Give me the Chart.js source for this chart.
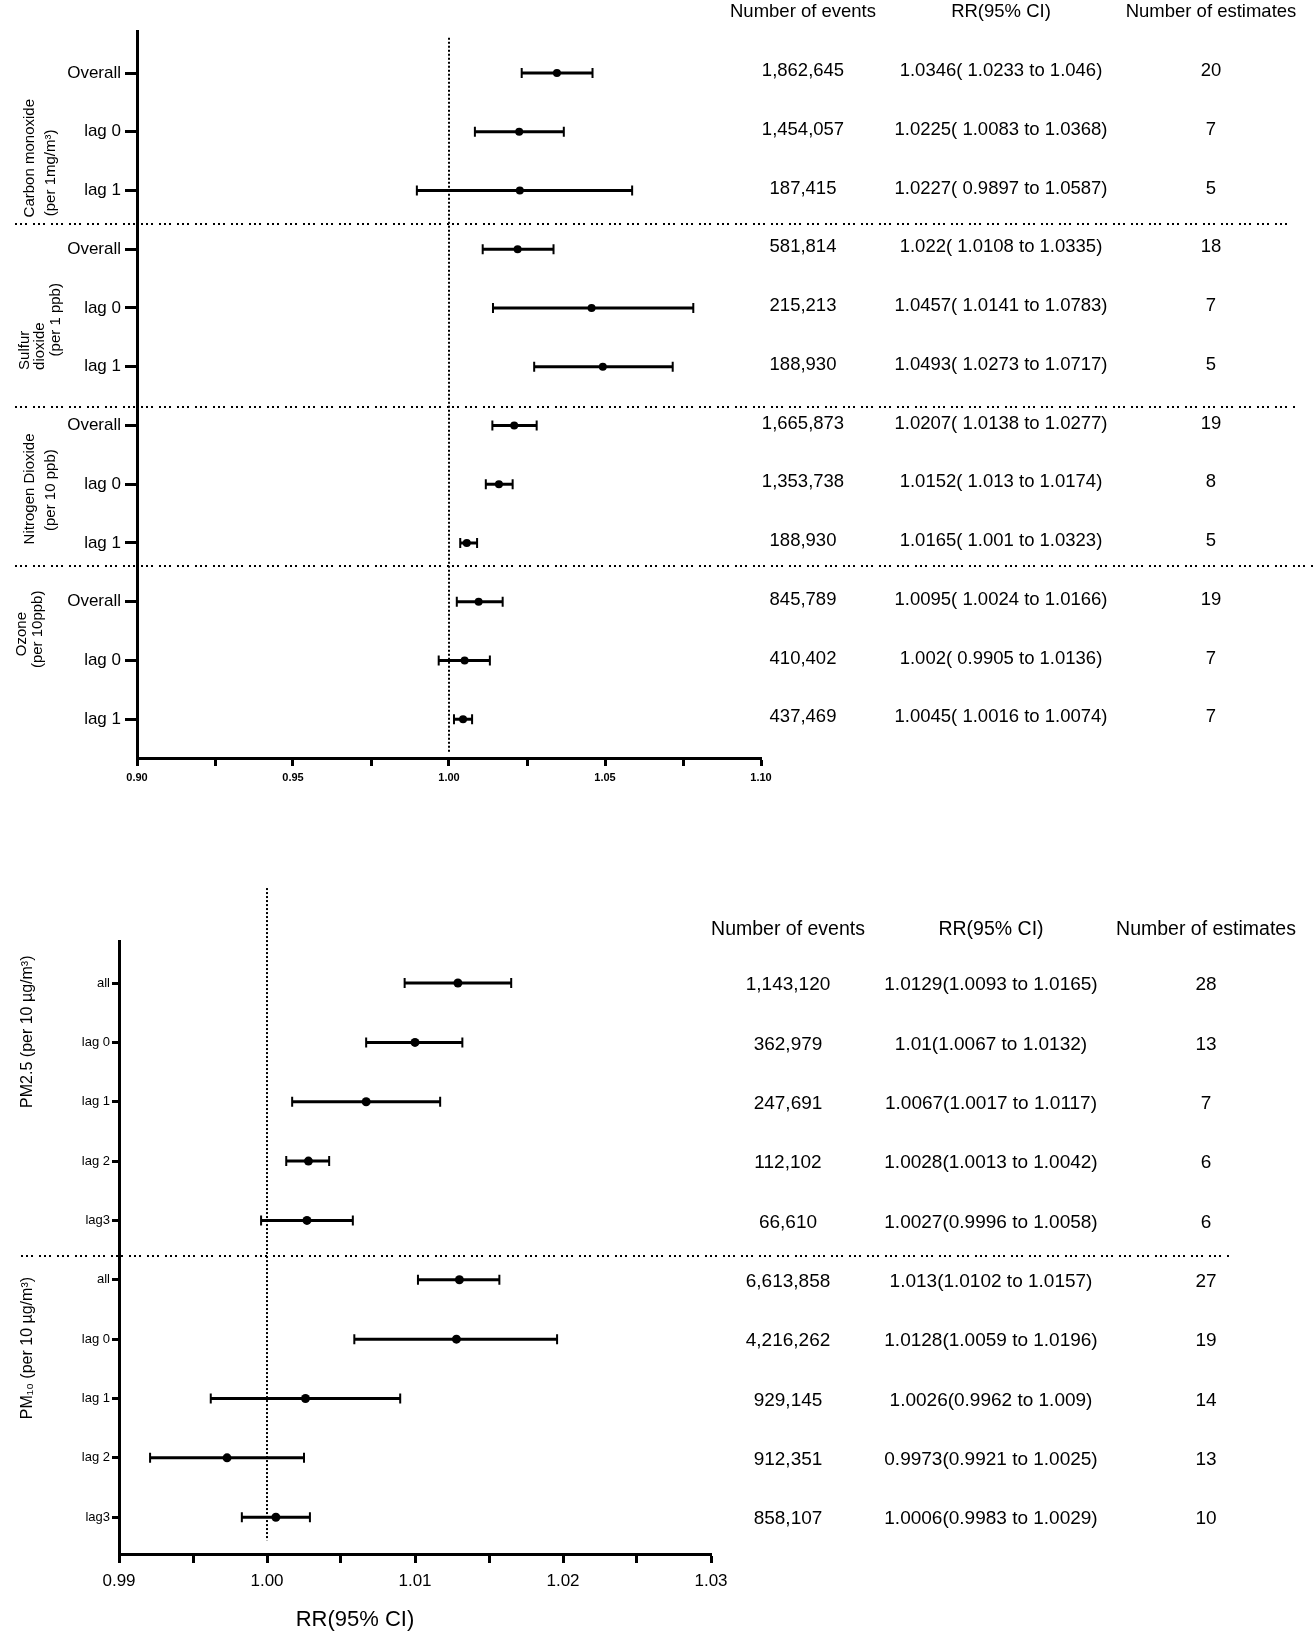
<!DOCTYPE html>
<html>
<head>
<meta charset="utf-8">
<script src="https://cdn.jsdelivr.net/npm/chart.js@4.4.0/dist/chart.umd.min.js"></script>
<style>
  html, body { margin: 0; padding: 0; background: #fff; }
  #wrap { position: relative; width: 1314px; height: 1637px; }
  canvas { position: absolute; left: 0; }
  #gas { top: 0; }
  #pm { top: 860px; }
</style>
</head>
<body>
<div id="wrap">
  <canvas id="gas" width="1314" height="810"></canvas>
  <canvas id="pm" width="1314" height="777"></canvas>
</div>
<script>
// upper panel: gaseous pollutants
const gasRows = ['Overall', 'lag 0', 'lag 1', 'Overall', 'lag 0', 'lag 1',
                 'Overall', 'lag 0', 'lag 1', 'Overall', 'lag 0', 'lag 1'];
const gasRR = [1.0346, 1.0225, 1.0227, 1.022, 1.0457, 1.0493, 1.0209, 1.016, 1.0057, 1.0095, 1.005, 1.0045];
const gasLo = [1.0233, 1.0083, 0.9897, 1.0108, 1.0141, 1.0273, 1.0139, 1.0118, 1.0036, 1.0025, 0.9967, 1.0016];
const gasHi = [1.046, 1.0368, 1.0587, 1.0335, 1.0783, 1.0717, 1.0281, 1.0204, 1.009, 1.0172, 1.0131, 1.0074];
const gasEvents = ['1,862,645', '1,454,057', '187,415', '581,814', '215,213', '188,930',
                   '1,665,873', '1,353,738', '188,930', '845,789', '410,402', '437,469'];
const gasRRText = ['1.0346( 1.0233 to 1.046)', '1.0225( 1.0083 to 1.0368)', '1.0227( 0.9897 to 1.0587)',
                   '1.022( 1.0108 to 1.0335)', '1.0457( 1.0141 to 1.0783)', '1.0493( 1.0273 to 1.0717)',
                   '1.0207( 1.0138 to 1.0277)', '1.0152( 1.013 to 1.0174)', '1.0165( 1.001 to 1.0323)',
                   '1.0095( 1.0024 to 1.0166)', '1.002( 0.9905 to 1.0136)', '1.0045( 1.0016 to 1.0074)'];
const gasEstimates = ['20', '7', '5', '18', '7', '5', '19', '8', '5', '19', '7', '7'];
const gasGroups = [['Carbon monoxide', '(per 1mg/m³)'], ['Sulfur', 'dioxide', '(per 1 ppb)'],
                   ['Nitrogen Dioxide', '(per 10 ppb)'], ['Ozone', '(per 10ppb)']];

// lower panel: particulate matter
const pmRows = ['all', 'lag 0', 'lag 1', 'lag 2', 'lag3', 'all', 'lag 0', 'lag 1', 'lag 2', 'lag3'];
const pmRR = [1.0129, 1.01, 1.0067, 1.0028, 1.0027, 1.013, 1.0128, 1.0026, 0.9973, 1.0006];
const pmLo = [1.0093, 1.0067, 1.0017, 1.0013, 0.9996, 1.0102, 1.0059, 0.9962, 0.9921, 0.9983];
const pmHi = [1.0165, 1.0132, 1.0117, 1.0042, 1.0058, 1.0157, 1.0196, 1.009, 1.0025, 1.0029];
const pmEvents = ['1,143,120', '362,979', '247,691', '112,102', '66,610',
                  '6,613,858', '4,216,262', '929,145', '912,351', '858,107'];
const pmRRText = ['1.0129(1.0093 to 1.0165)', '1.01(1.0067 to 1.0132)', '1.0067(1.0017 to 1.0117)',
                  '1.0028(1.0013 to 1.0042)', '1.0027(0.9996 to 1.0058)', '1.013(1.0102 to 1.0157)',
                  '1.0128(1.0059 to 1.0196)', '1.0026(0.9962 to 1.009)', '0.9973(0.9921 to 1.0025)',
                  '1.0006(0.9983 to 1.0029)'];
const pmEstimates = ['28', '13', '7', '6', '6', '27', '19', '14', '13', '10'];
const pmGroups = [['PM2.5 (per 10 µg/m³)'], ['PM₁₀ (per 10 µg/m³)']];

const headers = ['Number of events', 'RR(95% CI)', 'Number of estimates'];
const FONT = '"Liberation Sans", Arial, sans-serif';

Chart.defaults.font.family = FONT;
Chart.defaults.color = '#000';

// whiskers, reference line, separators and the text table on the right
function forestPlugin(p) {
  return {
    id: 'forest',
    beforeDatasetsDraw(chart) {
      const { ctx } = chart;
      const x = chart.scales.x, y = chart.scales.y;
      ctx.save();
      ctx.strokeStyle = '#000';

      ctx.lineWidth = 2;
      ctx.setLineDash([2, 2]);
      const x1 = Math.round(x.getPixelForValue(1));
      ctx.beginPath();
      ctx.moveTo(x1, y.getPixelForValue(p.refFrom));
      ctx.lineTo(x1, y.getPixelForValue(p.refTo));
      ctx.stroke();

      ctx.setLineDash([2, 3, 2, 3, 2, 6]);
      p.seps.forEach((s, k) => {
        const py = Math.round(y.getPixelForValue(s));
        ctx.beginPath();
        ctx.moveTo(p.sepLeft, py);
        ctx.lineTo(p.sepRight[k], py);
        ctx.stroke();
      });

      ctx.setLineDash([]);
      p.lo.forEach((lo, i) => {
        const py = y.getPixelForValue(i);
        const a = x.getPixelForValue(lo), b = x.getPixelForValue(p.hi[i]);
        ctx.lineWidth = 3;
        ctx.beginPath();
        ctx.moveTo(a, py);
        ctx.lineTo(b, py);
        ctx.stroke();
        ctx.lineWidth = 2;
        ctx.beginPath();
        ctx.moveTo(a, py - p.cap); ctx.lineTo(a, py + p.cap);
        ctx.moveTo(b, py - p.cap); ctx.lineTo(b, py + p.cap);
        ctx.stroke();
      });
      ctx.restore();
    },
    afterDraw(chart) {
      const { ctx } = chart;
      const y = chart.scales.y;
      ctx.save();
      ctx.fillStyle = '#000';
      ctx.textAlign = 'center';
      ctx.textBaseline = 'middle';
      ctx.font = p.headerFont;
      headers.forEach((h, k) => ctx.fillText(h, p.cols[k], p.headerY));
      ctx.font = p.tableFont;
      p.events.forEach((ev, i) => {
        const py = y.getPixelForValue(i) + p.textShift;
        ctx.fillText(ev, p.cols[0], py);
        ctx.fillText(p.rrText[i], p.cols[1], py);
        ctx.fillText(p.estimates[i], p.cols[2], py);
      });

      ctx.font = p.groupFont;
      p.groups.forEach((lines, g) => {
        lines.forEach((t, l) => {
          ctx.save();
          ctx.translate(p.groupX[g][l], y.getPixelForValue(p.groupAt[g][l]));
          ctx.rotate(-Math.PI / 2);
          ctx.fillText(t, 0, 0);
          ctx.restore();
        });
      });

      if (p.title) {
        ctx.font = p.title.font;
        ctx.fillText(p.title.text, p.title.x, p.title.y);
      }
      ctx.restore();
    }
  };
}

function forest(id, o) {
  return new Chart(document.getElementById(id), {
    type: 'scatter',
    data: {
      datasets: [{
        data: o.rr.map((v, i) => ({ x: v, y: i })),
        pointRadius: o.pointRadius,
        pointBackgroundColor: '#000',
        pointBorderWidth: 0
      }]
    },
    options: {
      responsive: false,
      animation: false,
      devicePixelRatio: 1,
      layout: { padding: o.padding },
      plugins: { legend: { display: false }, tooltip: { enabled: false } },
      scales: {
        x: {
          type: 'linear', min: o.xMin, max: o.xMax,
          afterFit: s => { s.height = o.xHeight; },
          ticks: {
            stepSize: o.xStep, autoSkip: false, maxRotation: 0, padding: o.xPad,
            font: o.xFont, color: '#000',
            callback: v => Math.abs(v / o.xLabelStep - Math.round(v / o.xLabelStep)) < 1e-6 ? v.toFixed(2) : ''
          },
          grid: { drawOnChartArea: false, tickLength: o.xTick, tickWidth: 3, tickColor: '#000' },
          border: { color: '#000', width: 3 }
        },
        y: {
          type: 'linear', reverse: true, min: o.yMin, max: o.yMax,
          afterFit: s => { s.width = o.yWidth; },
          afterBuildTicks: s => { s.ticks = o.rows.map((_, i) => ({ value: i })); },
          ticks: {
            autoSkip: false, padding: o.yPad, font: o.yFont, color: '#000',
            callback: v => o.rows[v]
          },
          grid: { drawOnChartArea: false, tickLength: o.yTick, tickWidth: 3, tickColor: '#000' },
          border: { color: '#000', width: 3 }
        }
      }
    },
    plugins: [forestPlugin(o)]
  });
}

forest('gas', {
  rows: gasRows, rr: gasRR, lo: gasLo, hi: gasHi,
  events: gasEvents, rrText: gasRRText, estimates: gasEstimates, groups: gasGroups,
  groupX: [[30, 51], [25, 40, 56], [30, 51], [22, 38]],
  groupAt: [[1.45, 1.7], [4.72, 4.65, 4.2], [7.08, 7.1], [9.55, 9.47]],
  groupFont: '15px ' + FONT,
  padding: { top: 31, right: 553, left: 0, bottom: 0 },
  xMin: 0.9, xMax: 1.1, xStep: 0.025, xLabelStep: 0.05, xHeight: 52, xPad: 5, xTick: 8,
  xFont: { size: 11, weight: 'bold' },
  yMin: -0.715, yMax: 11.66, yWidth: 137, yPad: 4, yTick: 12, yFont: { size: 17 },
  pointRadius: 4, cap: 5,
  refFrom: -0.6, refTo: 11.58,
  seps: [2.57, 5.69, 8.39], sepLeft: 15, sepRight: [1290, 1297, 1314],
  cols: [803, 1001, 1211], headerY: 12, textShift: -2,
  headerFont: '18.5px ' + FONT, tableFont: '18.5px ' + FONT
});

forest('pm', {
  rows: pmRows, rr: pmRR, lo: pmLo, hi: pmHi,
  events: pmEvents, rrText: pmRRText, estimates: pmEstimates, groups: pmGroups,
  groupX: [[28], [28]],
  groupAt: [[0.82], [6.15]],
  groupFont: '16px ' + FONT,
  padding: { top: 81, right: 603, left: 0, bottom: 0 },
  xMin: 0.99, xMax: 1.03, xStep: 0.005, xLabelStep: 0.01, xHeight: 83, xPad: 8, xTick: 9,
  xFont: { size: 17 },
  yMin: -0.708, yMax: 9.62, yWidth: 119, yPad: 2, yTick: 7, yFont: { size: 13 },
  pointRadius: 4.5, cap: 5,
  refFrom: -1.6, refTo: 9.39,
  seps: [4.6], sepLeft: 21, sepRight: [1230],
  cols: [788, 991, 1206], headerY: 70, textShift: 2,
  headerFont: '19.5px ' + FONT, tableFont: '19px ' + FONT,
  title: { text: 'RR(95% CI)', x: 355, y: 760, font: '22px ' + FONT }
});
</script>
</body>
</html>
